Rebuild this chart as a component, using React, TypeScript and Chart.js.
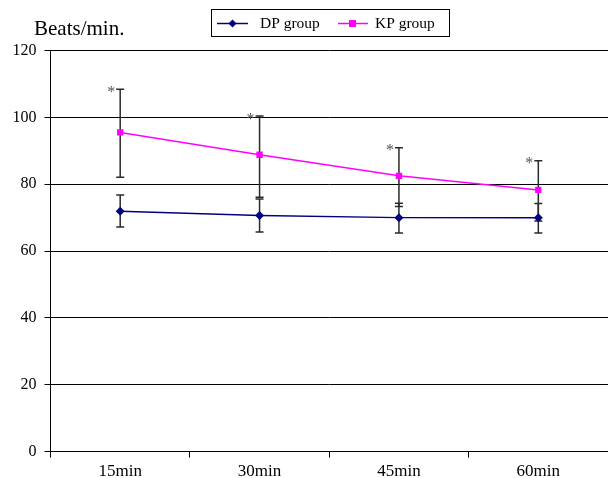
import React, { useEffect, useRef } from 'react';
import { Chart, registerables } from 'chart.js';

Chart.register(...registerables);

const categories = ['15min', '30min', '45min', '60min'];
const dpMean = [71.9, 70.6, 70.0, 70.0];
const dpUpper = [76.8, 75.6, 74.3, 74.2];
const dpLower = [67.2, 65.7, 65.4, 65.4];
const kpMean = [95.5, 88.8, 82.5, 78.3];
const kpUpper = [108.4, 100.4, 90.9, 87.0];
const kpLower = [82.1, 76.1, 73.3, 69.0];
const kpSignificant = [true, true, true, true];
const yTicks = [0, 20, 40, 60, 80, 100, 120];

const SERIF = '"Liberation Serif", "Times New Roman", Times, serif';

export default function App() {
  const ref = useRef<HTMLCanvasElement>(null);

  useEffect(() => {
    const canvas = ref.current;
    if (!canvas) return;

    const errorBars = {
      id: 'errorBars',
      beforeDatasetsDraw(chart: any) {
        const { ctx, scales } = chart;
        const xs = scales.x;
        const ys = scales.y;
        const sets = [
          { up: dpUpper, lo: dpLower },
          { up: kpUpper, lo: kpLower },
        ];
        ctx.save();
        ctx.strokeStyle = '#2a2a2a';
        ctx.lineWidth = 1.5;
        sets.forEach((s) => {
          categories.forEach((_, i) => {
            const x = xs.getPixelForValue(i);
            const yt = ys.getPixelForValue(s.up[i]);
            const yb = ys.getPixelForValue(s.lo[i]);
            ctx.beginPath();
            ctx.moveTo(x, yt);
            ctx.lineTo(x, yb);
            ctx.moveTo(x - 4, yt);
            ctx.lineTo(x + 4, yt);
            ctx.moveTo(x - 4, yb);
            ctx.lineTo(x + 4, yb);
            ctx.stroke();
          });
        });
        ctx.restore();
      },
      afterDatasetsDraw(chart: any) {
        const { ctx, scales } = chart;
        ctx.save();
        ctx.fillStyle = '#555';
        ctx.font = `16px ${SERIF}`;
        ctx.textAlign = 'center';
        ctx.textBaseline = 'alphabetic';
        categories.forEach((_, i) => {
          if (!kpSignificant[i]) return;
          const x = scales.x.getPixelForValue(i);
          const y = scales.y.getPixelForValue(kpUpper[i]);
          ctx.fillText('*', x - 9, y + 7.5);
        });
        ctx.restore();
      },
      afterDraw(chart: any) {
        const { ctx } = chart;
        ctx.save();
        // title
        ctx.fillStyle = '#000';
        ctx.font = `21px ${SERIF}`;
        ctx.textAlign = 'left';
        ctx.textBaseline = 'alphabetic';
        ctx.fillText('Beats/min.', 34, 35);
        // legend box
        ctx.strokeStyle = '#000';
        ctx.lineWidth = 1;
        ctx.strokeRect(211.5, 9.5, 238, 27);
        const ly = 23.5;
        // DP
        ctx.strokeStyle = '#000080';
        ctx.lineWidth = 1.5;
        ctx.beginPath();
        ctx.moveTo(217, ly);
        ctx.lineTo(248, ly);
        ctx.stroke();
        ctx.fillStyle = '#000080';
        ctx.beginPath();
        ctx.moveTo(232.5, ly - 4);
        ctx.lineTo(236.5, ly);
        ctx.lineTo(232.5, ly + 4);
        ctx.lineTo(228.5, ly);
        ctx.closePath();
        ctx.fill();
        // KP
        ctx.strokeStyle = '#FF00FF';
        ctx.beginPath();
        ctx.moveTo(338, ly);
        ctx.lineTo(368, ly);
        ctx.stroke();
        ctx.fillStyle = '#FF00FF';
        ctx.fillRect(349, ly - 3.5, 7, 7);
        // texts
        ctx.fillStyle = '#000';
        ctx.font = `15.5px ${SERIF}`;
        ctx.textBaseline = 'middle';
        ctx.fillText('DP group', 260, ly);
        ctx.fillText('KP group', 375, ly);
        ctx.restore();
      },
    };

    const chart = new Chart(canvas, {
      type: 'line',
      data: {
        labels: categories,
        datasets: [
          {
            label: 'DP group',
            data: dpMean,
            borderColor: '#000080',
            backgroundColor: '#000080',
            borderWidth: 1.5,
            pointStyle: 'rectRot',
            pointRadius: 4.5,
            pointBorderWidth: 0,
            tension: 0,
          },
          {
            label: 'KP group',
            data: kpMean,
            borderColor: '#FF00FF',
            backgroundColor: '#FF00FF',
            borderWidth: 1.5,
            pointStyle: 'rect',
            pointRadius: 4.5,
            pointBorderWidth: 0,
            tension: 0,
          },
        ],
      },
      options: {
        responsive: false,
        animation: false,
        layout: {
          autoPadding: false,
          padding: { top: 50.5, left: 0, right: -2, bottom: 0 },
        },
        plugins: {
          legend: { display: false },
          tooltip: { enabled: false },
          title: { display: false },
        },
        scales: {
          x: {
            type: 'category',
            offset: true,
            grid: {
              offset: true,
              drawOnChartArea: false,
              color: '#000',
              tickLength: 6,
              lineWidth: 1,
            },
            border: { color: '#000', width: 1 },
            ticks: {
              color: '#000',
              font: { family: SERIF, size: 17 },
              padding: 4,
              maxRotation: 0,
            },
            afterFit: (s: any) => {
              s.height = 26.4;
              s.paddingLeft = 0;
              s.paddingRight = 0;
            },
          },
          y: {
            type: 'linear',
            min: 0,
            max: 120,
            afterBuildTicks: (s: any) => {
              s.ticks = yTicks.map((v) => ({ value: v }));
            },
            grid: { color: '#000', tickLength: 6, lineWidth: 1 },
            border: { color: '#000', width: 1 },
            ticks: {
              color: '#000',
              font: { family: SERIF, size: 16 },
              padding: 8,
            },
            afterFit: (s: any) => {
              s.width = 50.5;
            },
          },
        },
      },
      plugins: [errorBars],
    });

    return () => chart.destroy();
  }, []);

  return (
    <div
      style={{
        position: 'fixed',
        left: 0,
        top: 0,
        width: 608,
        height: 478,
        background: '#fff',
      }}
    >
      <canvas ref={ref} width={608} height={478} style={{ display: 'block' }} />
    </div>
  );
}
